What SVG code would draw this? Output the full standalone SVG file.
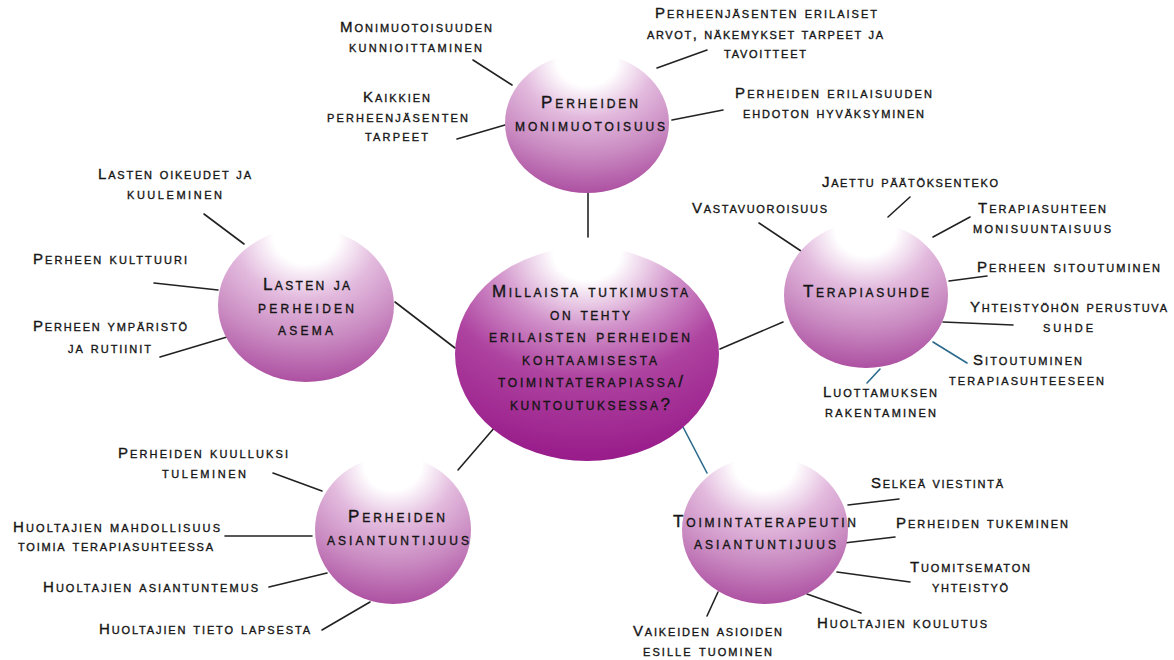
<svg xmlns="http://www.w3.org/2000/svg" width="1174" height="660" viewBox="0 0 1174 660">
<style>
.t{font-family:"Liberation Sans",Arial,sans-serif;font-size:15px;font-variant:small-caps;fill:#151515;stroke:#151515;stroke-width:0.35;text-anchor:middle}
.n{font-size:17px}
.c line{stroke:#222;stroke-width:1.6;stroke-linecap:round}
.c line.b{stroke:#2b6a8c}
</style>
<defs>
<radialGradient id="gs" cx="0.5" cy="0.05" r="0.97" fx="0.5" fy="0.05">
<stop offset="0" stop-color="#ffffff"/>
<stop offset="0.19" stop-color="#ffffff"/>
<stop offset="0.42" stop-color="#e3bbde"/>
<stop offset="0.7" stop-color="#c98ac1"/>
<stop offset="1" stop-color="#ab4c9f"/>
</radialGradient>
<radialGradient id="gc" cx="0.5" cy="0.03" r="0.97" fx="0.5" fy="0.03">
<stop offset="0" stop-color="#ffffff"/>
<stop offset="0.13" stop-color="#ffffff"/>
<stop offset="0.36" stop-color="#d294cb"/>
<stop offset="0.6" stop-color="#ae43a0"/>
<stop offset="1" stop-color="#981b8a"/>
</radialGradient>
</defs>
<rect width="1174" height="660" fill="#ffffff"/>
<g id="connectors" class="c">
<line x1="588" y1="193" x2="588" y2="237"/>
<line x1="473" y1="60" x2="512" y2="85"/>
<line x1="457" y1="139" x2="505" y2="125"/>
<line x1="657" y1="68" x2="707" y2="50"/>
<line x1="672" y1="120" x2="723" y2="110"/>
<line x1="204" y1="214" x2="244" y2="244"/>
<line x1="154" y1="283" x2="218" y2="290"/>
<line x1="160" y1="357" x2="227" y2="337"/>
<line x1="395" y1="302" x2="455" y2="348"/>
<line x1="910" y1="197" x2="888" y2="217"/>
<line x1="759" y1="223" x2="801" y2="251"/>
<line x1="970" y1="217" x2="933" y2="237"/>
<line x1="987" y1="276" x2="949" y2="281"/>
<line x1="943" y1="322" x2="1013" y2="325"/>
<line class="b" x1="933" y1="342" x2="967" y2="363"/>
<line class="b" x1="880" y1="369" x2="867" y2="383"/>
<line x1="720" y1="349" x2="783" y2="322"/>
<line x1="273" y1="473" x2="322" y2="491"/>
<line x1="225" y1="536" x2="312" y2="536"/>
<line x1="269" y1="587" x2="327" y2="573"/>
<line x1="322" y1="630" x2="370" y2="602"/>
<line x1="495" y1="427" x2="458" y2="470"/>
<line class="b" x1="683" y1="427" x2="707" y2="473"/>
<line x1="848" y1="505" x2="899" y2="499"/>
<line x1="844" y1="543" x2="895" y2="537"/>
<line x1="837" y1="572" x2="910" y2="582"/>
<line x1="807" y1="594" x2="861" y2="613"/>
<line x1="718" y1="592" x2="707" y2="616"/>
</g>
<g id="center">
<ellipse cx="587" cy="354" rx="132" ry="107" fill="url(#gc)"/>
<text class="t n" x="590" y="297" textLength="196">Millaista tutkimusta</text>
<text class="t n" x="590" y="320" textLength="80">on tehty</text>
<text class="t n" x="589.5" y="342" textLength="201">erilaisten perheiden</text>
<text class="t n" x="589.5" y="365" textLength="135">kohtaamisesta</text>
<text class="t n" x="590.5" y="387" textLength="185">toimintaterapiassa/</text>
<text class="t n" x="590" y="410" textLength="160">kuntoutuksessa?</text>
</g>
<g id="monimuotoisuus">
<ellipse cx="587" cy="123" rx="82" ry="70" fill="url(#gs)"/>
<text class="t n" x="589.5" y="108" textLength="97">Perheiden</text>
<text class="t n" x="590" y="131" textLength="150">monimuotoisuus</text>
<text class="t" x="416" y="32" textLength="152">Monimuotoisuuden</text>
<text class="t" x="415.5" y="52" textLength="133">kunnioittaminen</text>
<text class="t" x="396.5" y="102" textLength="67">Kaikkien</text>
<text class="t" x="397.5" y="122" textLength="141">perheenjäsenten</text>
<text class="t" x="396.5" y="141" textLength="63">tarpeet</text>
<text class="t" x="766" y="18" textLength="222">Perheenjäsenten erilaiset</text>
<text class="t" x="765" y="39" textLength="236">arvot, näkemykset tarpeet ja</text>
<text class="t" x="765" y="58" textLength="82">tavoitteet</text>
<text class="t" x="833.5" y="98" textLength="197">Perheiden erilaisuuden</text>
<text class="t" x="833.5" y="118" textLength="181">ehdoton hyväksyminen</text>
</g>
<g id="lasten">
<ellipse cx="306" cy="305" rx="88" ry="77" fill="url(#gs)"/>
<text class="t n" x="306.5" y="290" textLength="87">Lasten ja</text>
<text class="t n" x="306" y="313" textLength="96">perheiden</text>
<text class="t n" x="305.5" y="335" textLength="55">asema</text>
<text class="t" x="174.5" y="179" textLength="153">Lasten oikeudet ja</text>
<text class="t" x="174.5" y="199" textLength="95">kuuleminen</text>
<text class="t" x="110" y="264" textLength="154">Perheen kulttuuri</text>
<text class="t" x="110" y="331" textLength="154">Perheen ympäristö</text>
<text class="t" x="109.5" y="353" textLength="83">ja rutiinit</text>
</g>
<g id="terapiasuhde">
<ellipse cx="866" cy="295" rx="82" ry="73" fill="url(#gs)"/>
<text class="t n" x="866" y="297" textLength="126">Terapiasuhde</text>
<text class="t" x="910" y="187" textLength="176">Jaettu päätöksenteko</text>
<text class="t" x="759.5" y="213" textLength="135">Vastavuoroisuus</text>
<text class="t" x="1042" y="213" textLength="128">Terapiasuhteen</text>
<text class="t" x="1042" y="233" textLength="138">monisuuntaisuus</text>
<text class="t" x="1068.5" y="272" textLength="183">Perheen sitoutuminen</text>
<text class="t" x="1068.5" y="312" textLength="197">Yhteistyöhön perustuva</text>
<text class="t" x="1068" y="332" textLength="50">suhde</text>
<text class="t" x="1027.5" y="365" textLength="109">Sitoutuminen</text>
<text class="t" x="1026.5" y="385" textLength="155">terapiasuhteeseen</text>
<text class="t" x="880" y="397" textLength="114">Luottamuksen</text>
<text class="t" x="880.5" y="417" textLength="111">rakentaminen</text>
</g>
<g id="perheiden-asiantuntijuus">
<ellipse cx="393" cy="530" rx="78" ry="74" fill="url(#gs)"/>
<text class="t n" x="396.5" y="522" textLength="97">Perheiden</text>
<text class="t n" x="398" y="545" textLength="142">asiantuntijuus</text>
<text class="t" x="203" y="458" textLength="170">Perheiden kuulluksi</text>
<text class="t" x="204" y="478" textLength="84">tuleminen</text>
<text class="t" x="116.5" y="532" textLength="207">Huoltajien mahdollisuus</text>
<text class="t" x="115.5" y="551" textLength="195">toimia terapiasuhteessa</text>
<text class="t" x="150.5" y="592" textLength="215">Huoltajien asiantuntemus</text>
<text class="t" x="204.5" y="634" textLength="211">Huoltajien tieto lapsesta</text>
</g>
<g id="toimintaterapeutin-asiantuntijuus">
<ellipse cx="765" cy="530" rx="83" ry="74" fill="url(#gs)"/>
<text class="t n" x="764.5" y="527" textLength="183">Toimintaterapeutin</text>
<text class="t n" x="765" y="549" textLength="142">asiantuntijuus</text>
<text class="t" x="937" y="488" textLength="132">Selkeä viestintä</text>
<text class="t" x="982" y="528" textLength="172">Perheiden tukeminen</text>
<text class="t" x="970" y="572" textLength="120">Tuomitsematon</text>
<text class="t" x="970" y="592" textLength="76">yhteistyö</text>
<text class="t" x="902" y="628" textLength="170">Huoltajien koulutus</text>
<text class="t" x="707.5" y="636" textLength="149">Vaikeiden asioiden</text>
<text class="t" x="707.5" y="656" textLength="129">esille tuominen</text>
</g>
</svg>
